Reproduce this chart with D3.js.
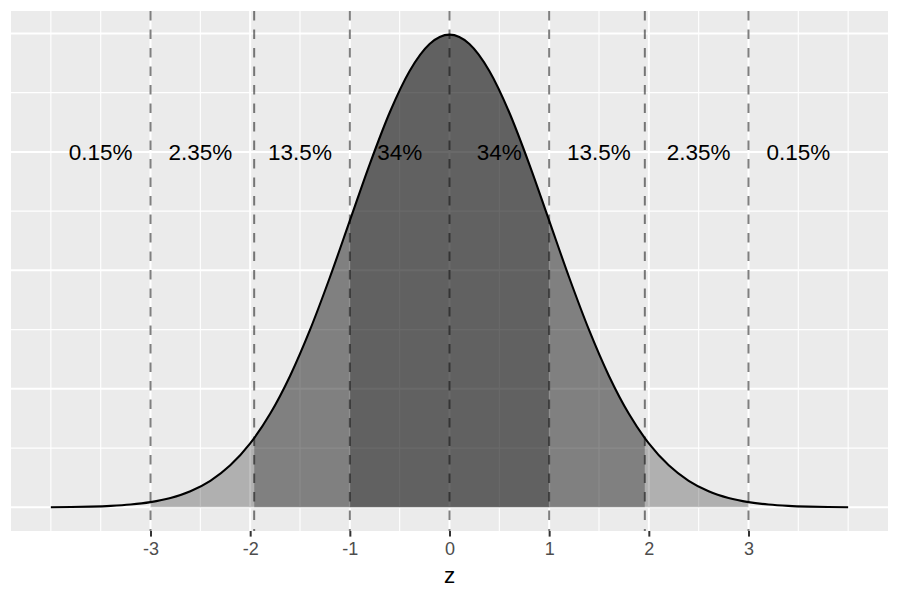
<!DOCTYPE html>
<html>
<head>
<meta charset="utf-8">
<script src="https://cdn.jsdelivr.net/npm/d3@7"></script>
<style>
  html, body { margin: 0; padding: 0; background: #fff; }
  svg { display: block; font-family: "Liberation Sans", Arial, Helvetica, sans-serif; }
</style>
</head>
<body>
<svg id="chart" width="900" height="600"></svg>
<script>
// ---- data ----
const zValues = [-4, -3.8, -3.6, -3.4, -3.2, -3, -2.8, -2.6, -2.4, -2.2, -2, -1.96, -1.8, -1.6, -1.4, -1.2, -1, -0.8, -0.6, -0.4, -0.2,
                 0, 0.2, 0.4, 0.6, 0.8, 1, 1.2, 1.4, 1.6, 1.8, 1.96, 2, 2.2, 2.4, 2.6, 2.8, 3, 3.2, 3.4, 3.6, 3.8, 4];
const densityValues = [0.000134, 0.000292, 0.000612, 0.001232, 0.002384, 0.004432, 0.007915, 0.013583, 0.022395, 0.035475, 0.053991, 0.058441,
                       0.078950, 0.110921, 0.149727, 0.194186, 0.241971, 0.289692, 0.333225, 0.368270, 0.391043,
                       0.398942, 0.391043, 0.368270, 0.333225, 0.289692, 0.241971, 0.194186, 0.149727, 0.110921, 0.078950, 0.058441,
                       0.053991, 0.035475, 0.022395, 0.013583, 0.007915, 0.004432, 0.002384, 0.001232, 0.000612, 0.000292, 0.000134];
const bandFrom = [-3, -1.96, -1, 1, 1.96];
const bandTo   = [-1.96, -1, 1, 1.96, 3];
const bandKind = ["outer", "middle", "inner", "middle", "outer"];
const cutoffs = [-3, -1.96, -1, 0, 1, 1.96, 3];
const labelX = [-3.5, -2.5, -1.5, -0.5, 0.5, 1.5, 2.5, 3.5];
const labelText = ["0.15%", "2.35%", "13.5%", "34%", "34%", "13.5%", "2.35%", "0.15%"];
const labelY = 0.3;
const xTicks = [-3, -2, -1, 0, 1, 2, 3];
const xTickLabels = ["-3", "-2", "-1", "0", "1", "2", "3"];
const xMinorGrid = [-4, -3.5, -2.5, -1.5, -0.5, 0.5, 1.5, 2.5, 3.5, 4];
const yMajorGrid = [0, 0.1, 0.2, 0.3, 0.4];
const yMinorGrid = [0.05, 0.15, 0.25, 0.35];
const xTitle = "z";

// ---- styles ----
const bandOpacity = { outer: 0.25, middle: 0.455, inner: 0.59 };

const svg = d3.select("#chart");
const panel = { left: 11, right: 888, top: 11, bottom: 531 };

const x = d3.scaleLinear().domain([-4.4, 4.4]).range([panel.left, panel.right]);
const yMax = d3.max(densityValues);
const yPad = yMax * 0.05;
const y = d3.scaleLinear().domain([-yPad, yMax + yPad]).range([panel.bottom, panel.top]);

const points = zValues.map((z, i) => ({ z, d: densityValues[i] }));

// panel background
svg.append("rect")
  .attr("x", panel.left).attr("y", panel.top)
  .attr("width", panel.right - panel.left).attr("height", panel.bottom - panel.top)
  .attr("fill", "#EBEBEB");

// grid
const grid = svg.append("g");
grid.selectAll(".ymin").data(yMinorGrid).join("line")
  .attr("x1", panel.left).attr("x2", panel.right)
  .attr("y1", d => y(d)).attr("y2", d => y(d))
  .attr("stroke", "#fff").attr("stroke-width", 1.1);
grid.selectAll(".xmin").data(xMinorGrid).join("line")
  .attr("y1", panel.top).attr("y2", panel.bottom)
  .attr("x1", d => x(d)).attr("x2", d => x(d))
  .attr("stroke", "#fff").attr("stroke-width", 1.1);
grid.selectAll(".ymaj").data(yMajorGrid).join("line")
  .attr("x1", panel.left).attr("x2", panel.right)
  .attr("y1", d => y(d)).attr("y2", d => y(d))
  .attr("stroke", "#fff").attr("stroke-width", 2);
grid.selectAll(".xmaj").data(xTicks).join("line")
  .attr("y1", panel.top).attr("y2", panel.bottom)
  .attr("x1", d => x(d)).attr("x2", d => x(d))
  .attr("stroke", "#fff").attr("stroke-width", 2);

// shaded bands (area clipped to each band)
const area = d3.area().x(p => x(p.z)).y0(y(0)).y1(p => y(p.d)).curve(d3.curveMonotoneX);
const defs = svg.append("defs");
bandFrom.forEach((a, i) => {
  const id = "clip" + i;
  defs.append("clipPath").attr("id", id).append("rect")
    .attr("x", x(a)).attr("y", panel.top)
    .attr("width", x(bandTo[i]) - x(a)).attr("height", panel.bottom - panel.top);
  svg.append("path")
    .datum(points)
    .attr("d", area)
    .attr("clip-path", `url(#${id})`)
    .attr("fill", "#000")
    .attr("fill-opacity", bandOpacity[bandKind[i]]);
});

// dashed cutoff lines
svg.append("g").selectAll("line").data(cutoffs).join("line")
  .attr("x1", d => x(d)).attr("x2", d => x(d))
  .attr("y1", panel.top).attr("y2", panel.bottom)
  .attr("stroke", "#000").attr("stroke-opacity", 0.5)
  .attr("stroke-width", 2).attr("stroke-dasharray", "9.5,9");

// density curve
const line = d3.line().x(p => x(p.z)).y(p => y(p.d)).curve(d3.curveMonotoneX);
svg.append("path").datum(points)
  .attr("d", line).attr("fill", "none")
  .attr("stroke", "#000").attr("stroke-width", 2.1);

// labels
svg.append("g").selectAll("text").data(labelX).join("text")
  .attr("x", d => x(d)).attr("y", y(labelY) + 8)
  .attr("text-anchor", "middle")
  .attr("font-size", 22.5)
  .attr("fill", "#000")
  .text((d, i) => labelText[i]);

// x axis
const xAxis = d3.axisBottom(x).tickValues(xTicks)
  .tickFormat((d, i) => xTickLabels[i]).tickSize(5.6).tickPadding(6);
const ax = svg.append("g").attr("transform", `translate(0,${panel.bottom})`).call(xAxis);
ax.select(".domain").remove();
ax.selectAll(".tick line").attr("stroke", "#333").attr("stroke-width", 2);
ax.selectAll(".tick text")
  .attr("fill", "#4D4D4D")
  .attr("font-size", 18)
  .attr("font-family", "Liberation Sans, Arial, sans-serif");

// axis title
svg.append("text")
  .attr("x", (panel.left + panel.right) / 2).attr("y", 583)
  .attr("text-anchor", "middle").attr("font-size", 22.5).attr("fill", "#000")
  .text(xTitle);
</script>
</body>
</html>
